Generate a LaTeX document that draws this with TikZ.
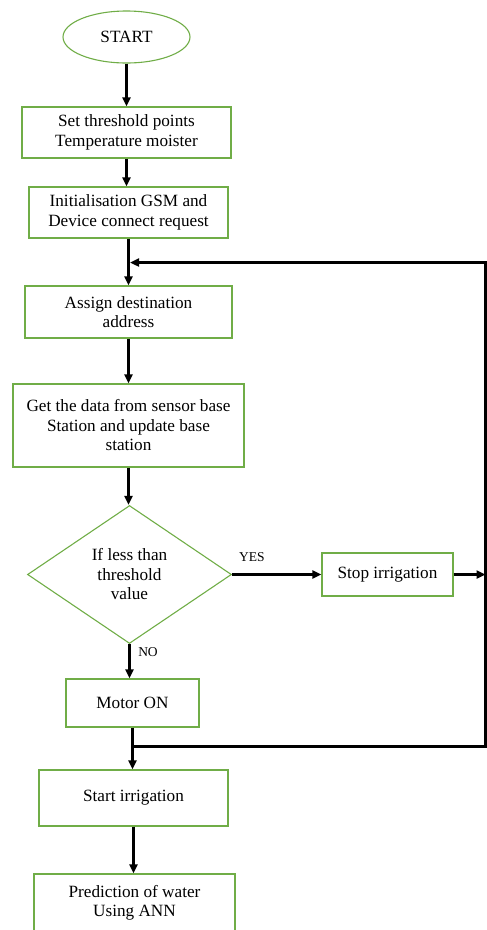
\documentclass[tikz,border=0pt]{standalone}
\usepackage{fontspec}
\setmainfont{Liberation Serif}
\usetikzlibrary{arrows.meta,shapes.geometric}
\definecolor{boxgreen}{RGB}{112,173,71}

\begin{document}
\begin{tikzpicture}[x=1pt,y=-1pt,line width=0.4pt,font=\fontsize{17.2}{19.5}\selectfont,
  stepbox/.style={draw=boxgreen,line width=1.1pt,align=center,inner sep=0pt},
  startend/.style={stepbox,ellipse,minimum width=127pt,minimum height=52pt},
  decision/.style={stepbox,diamond,aspect=1.48,minimum width=204pt,minimum height=138pt},
  flow/.style={-{Triangle[length=9pt,width=8pt]},black,line width=2.8pt},
  branch/.style={font=\fontsize{13.5}{15}\selectfont}]
  \useasboundingbox (0,0) rectangle (487,930);
  \node[startend] (start) at (126.5,37) {START};
  \node[stepbox,minimum width=209pt,minimum height=51pt] (thresh) at (126.5,132.5)
       {Set threshold points\\Temperature moister};
  \node[stepbox,minimum width=199pt,minimum height=51pt] (gsm) at (128.5,212.5)
       {Initialisation GSM and\\Device connect request};
  \node[stepbox,minimum width=207pt,minimum height=52pt] (dest) at (128.5,312)
       {Assign destination\\address};
  \node[stepbox,minimum width=231pt,minimum height=83pt] (data) at (128.5,425.5)
       {Get the data from sensor base\\Station and update base\\station};
  \node[decision] (check) at (129.5,574.5) {If less than\\threshold\\value};
  \node[stepbox,minimum width=131pt,minimum height=43pt] (stop) at (387.5,574.5) {Stop irrigation};
  \node[stepbox,minimum width=133pt,minimum height=48pt] (motor) at (132.5,703) {Motor ON};
  \node[stepbox,minimum width=189pt,minimum height=56pt] (irrig) at (133.5,798) {Start irrigation};
  \node[stepbox,minimum width=201pt,minimum height=58pt] (predict) at (134.5,903)
       {Prediction of water\\Using ANN};
  \node[branch] (yes) at (252,557) {YES};
  \node[branch] (no) at (148,652) {NO};
  % loop back
  \coordinate (jlow) at (132.5,746.5);
  \coordinate (rlow) at (485.5,746.5);
  \coordinate (rtop) at (485.5,262.5);
  \coordinate (jtop) at (130,262.5);
  \draw[flow] (start.south) -- (start.south |- thresh.north);
  \draw[flow] (thresh.south) -- (thresh.south |- gsm.north);
  \draw[flow] (gsm.south) -- (gsm.south |- dest.north);
  \draw[flow] (dest.south) -- (dest.south |- data.north);
  \draw[flow] (data.south) -- (data.south |- check.north);
  \draw[flow] (check.east) -- (stop.west);
  \draw[flow] (check.south) -- (check.south |- motor.north);
  \draw[flow] (motor.south) -- (motor.south |- irrig.north);
  \draw[flow] (irrig.south) -- (irrig.south |- predict.north);
  \draw[flow] (stop.east) -- (stop.east -| rlow);
  \draw[flow,line join=miter] (jlow) -- (rlow) -- (rtop) -- (jtop);
\end{tikzpicture}
\end{document}
